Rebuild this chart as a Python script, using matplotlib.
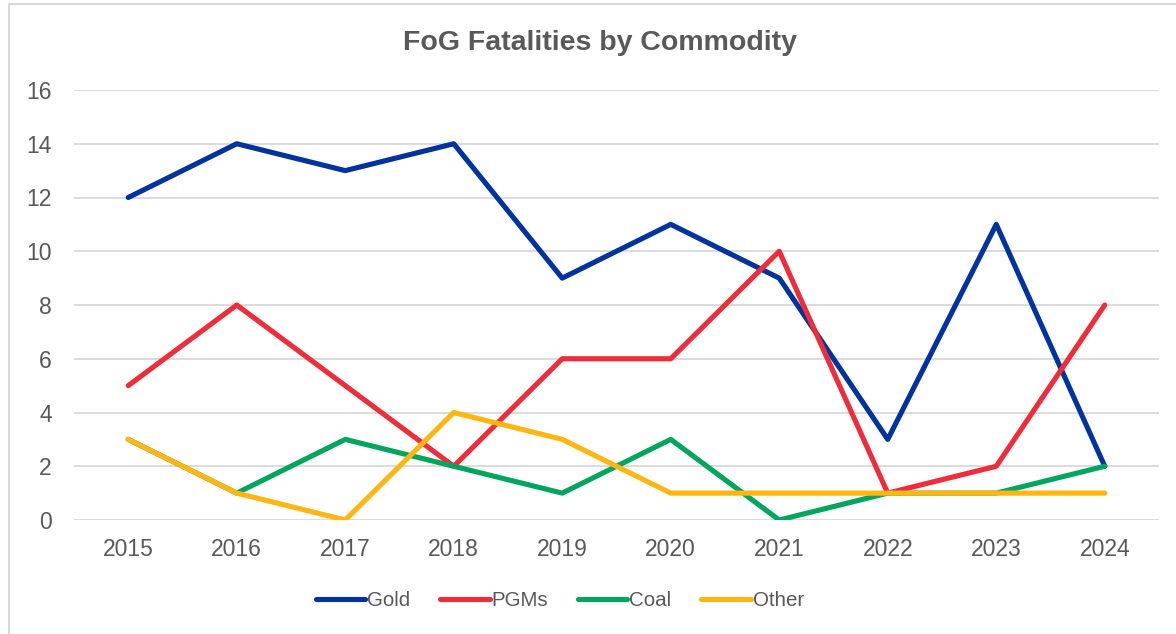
import numpy as np
import matplotlib.pyplot as plt
from matplotlib.lines import Line2D

plt.rcParams['font.family'] = ['Liberation Sans', 'DejaVu Sans']

years = ['2015', '2016', '2017', '2018', '2019', '2020', '2021', '2022', '2023', '2024']
gold = [12, 14, 13, 14, 9, 11, 9, 3, 11, 2]
pgms = [5, 8, 5, 2, 6, 6, 10, 1, 2, 8]
coal = [3, 1, 3, 2, 1, 3, 0, 1, 1, 2]
other = [3, 1, 0, 4, 3, 1, 1, 1, 1, 1]

series = [('Gold', gold, '#0033a0'),
          ('PGMs', pgms, '#ef2d3a'),
          ('Coal', coal, '#00a65d'),
          ('Other', other, '#ffb612')]

W, H = 1176, 634
fig = plt.figure(figsize=(W / 100, H / 100), dpi=100)
ax = fig.add_axes([74 / W, 1 - 520 / H, (1159 - 74) / W, (520 - 90) / H])

x = np.arange(len(years))
for name, vals, col in series:
    ax.plot(x, vals, color=col, lw=3.7, solid_capstyle='round',
            solid_joinstyle='round', label=name, zorder=3)

ax.set_xlim(-0.5, len(years) - 0.5)
ax.set_ylim(0, 16)
ax.set_yticks(range(0, 17, 2))
ax.set_xticks(x)
ax.set_xticklabels(years)
ax.grid(axis='y', color='#d9d9d9', lw=1.3)
ax.set_axisbelow(True)
for s in ax.spines.values():
    s.set_visible(False)
ax.tick_params(axis='both', length=0, labelsize=16.5, labelcolor='#595959')
ax.tick_params(axis='x', pad=13)
ax.tick_params(axis='y', pad=16)

fig.text(600 / W, 1 - 43 / H, 'FoG Fatalities by Commodity', ha='center', va='center',
         fontsize=20.5, fontweight='bold', color='#595959')

# chart border (only left and top edges visible in the crop)
fig.add_artist(Line2D([9 / W, 9 / W], [0, 1 - 4 / H], transform=fig.transFigure,
                      color='#d9d9d9', lw=1.5))
fig.add_artist(Line2D([9 / W, 1], [1 - 4 / H, 1 - 4 / H], transform=fig.transFigure,
                      color='#d9d9d9', lw=1.5))

leg = fig.legend(loc='center', bbox_to_anchor=(560 / W, 1 - 601 / H), ncol=4,
                 frameon=False, fontsize=14.8, handlelength=2.4, handletextpad=0.1,
                 columnspacing=1.45)
for t in leg.get_texts():
    t.set_color('#595959')

plt.savefig('out.png', dpi=100)
